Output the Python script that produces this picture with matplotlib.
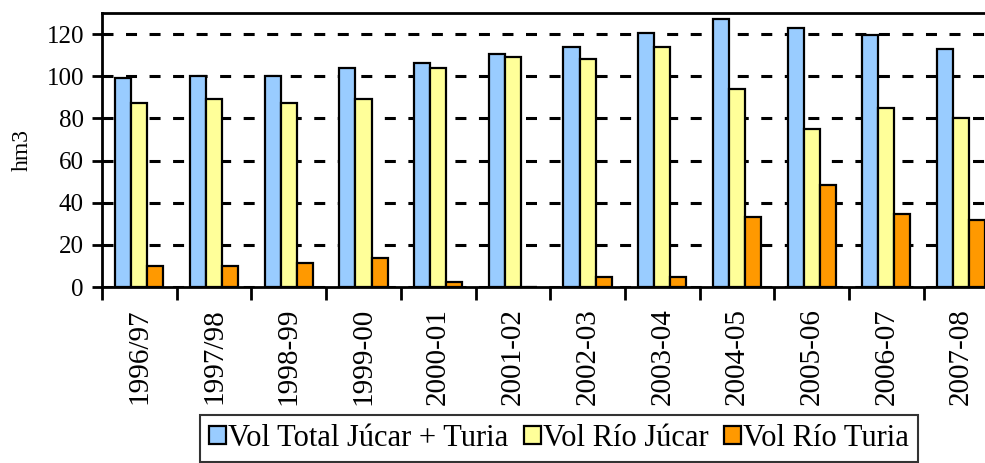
import numpy as np
import matplotlib.pyplot as plt

# campaigns and volumes (hm3)
campaigns = ['1996/97', '1997/98', '1998-99', '1999-00', '2000-01', '2001-02',
             '2002-03', '2003-04', '2004-05', '2005-06', '2006-07', '2007-08']
vol_total = [99, 100, 100, 104, 106.5, 110.5, 114, 120.5, 127, 123, 119.5, 113]
vol_jucar = [87.5, 89, 87.5, 89, 104, 109, 108, 114, 94, 75, 85, 80]
vol_turia = [10, 10, 11.5, 14, 2.5, 0, 5, 5, 33, 48.5, 34.5, 32]

series_names = ['Vol Total Júcar + Turia', 'Vol Río Júcar', 'Vol Río Turia']
colors = ['#99CCFF', '#FFFF99', '#FF9900']

plt.rcParams['font.family'] = ['Liberation Serif', 'DejaVu Serif']

fig = plt.figure(figsize=(9.85, 4.63), dpi=100)
ax = fig.add_axes([0.1036, 0.380, 0.910, 0.592])

x = np.arange(len(campaigns))
w = 0.215
handles = []
for i, (vals, col) in enumerate(zip([vol_total, vol_jucar, vol_turia], colors)):
    b = ax.bar(x + (i - 1) * w, vals, w, color=col, edgecolor='black',
               linewidth=1.6, zorder=3, label=series_names[i])
    handles.append(b)

ax.set_xlim(-0.5, len(campaigns) - 0.5)
ax.set_ylim(0, 130)
ax.set_yticks(range(0, 121, 20))
ax.yaxis.grid(True, color='black', linestyle=(0, (3.6, 4.1)), linewidth=2.2, zorder=1)

ax.set_xticks(x)
ax.set_xticklabels(campaigns, rotation=90, fontsize=21)
ax.set_xticks(np.arange(-0.5, len(campaigns), 1), minor=True)
ax.tick_params(axis='x', which='major', length=0, pad=15)
ax.tick_params(axis='x', which='minor', length=9, width=2)
ax.tick_params(axis='y', length=7, width=2, labelsize=18, pad=6)

for s in ax.spines.values():
    s.set_linewidth(2)

ax.set_ylabel('hm3', fontsize=17, labelpad=10)

leg = fig.legend(handles=handles, loc='upper left', bbox_to_anchor=(0.203, 0.104),
                 ncol=3, fontsize=22, frameon=True, fancybox=False,
                 handlelength=0.55, handleheight=0.55, handletextpad=0.08,
                 columnspacing=0.5, borderpad=0.3, borderaxespad=0)
leg.get_frame().set_edgecolor('black')
leg.get_frame().set_linewidth(1.5)

fig.savefig('out.png', dpi=100)
